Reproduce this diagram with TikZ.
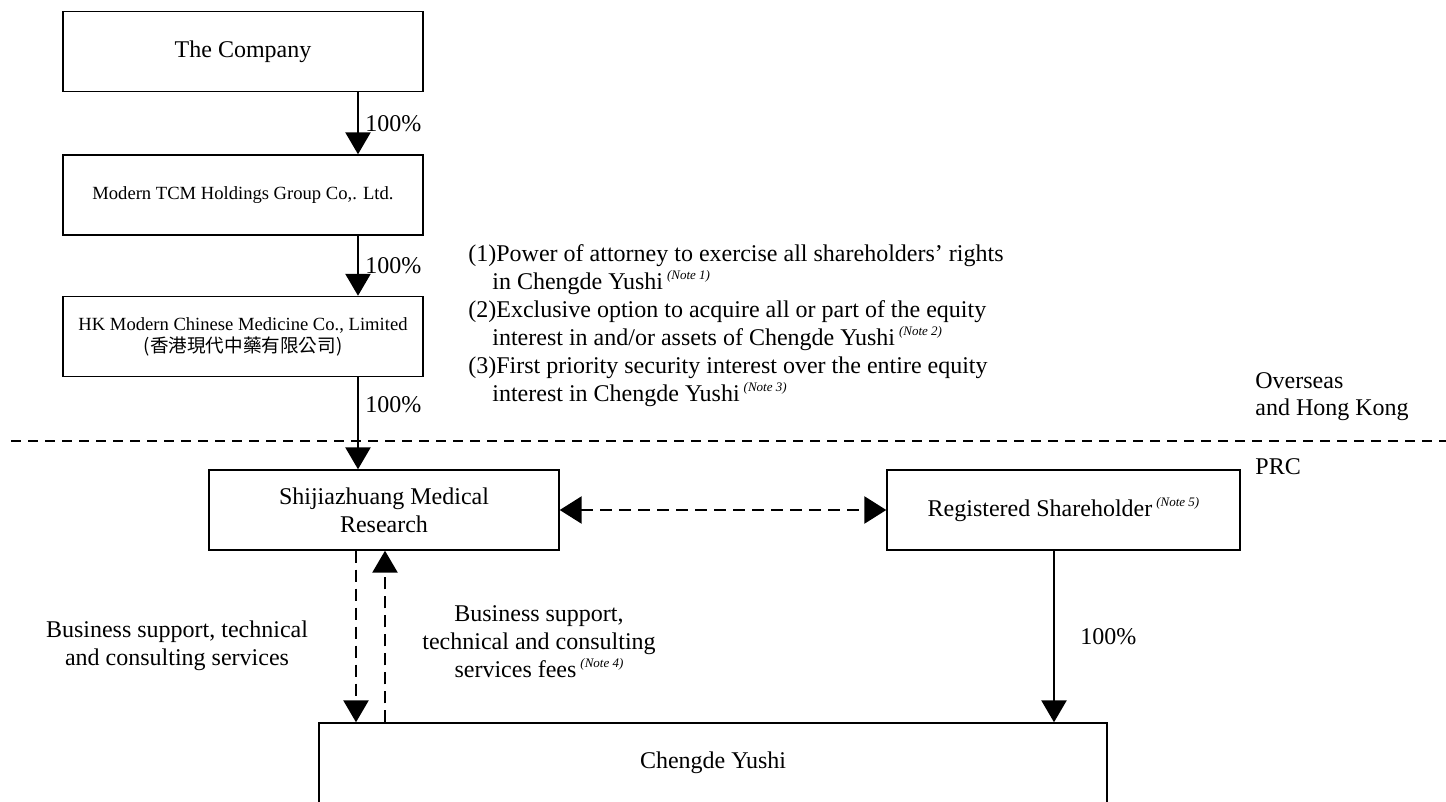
\documentclass[tikz,border=0pt]{standalone}
\usepackage{fontspec}
\setmainfont{Liberation Serif}
\newfontfamily\cjk{Noto Sans CJK TC}
\usetikzlibrary{arrows.meta}
\usetikzlibrary{positioning}
\newcommand{\noteref}[1]{\,\raisebox{0.9ex}{\fontsize{6.5}{7}\selectfont\itshape (Note #1)}}
\tikzset{
    entity/.style={draw, line width=0.7pt, inner sep=0pt, align=center},
    topbox/.style={entity, minimum width=180pt, minimum height=40pt},
    big/.style={font=\fontsize{12}{14}\selectfont},
    small/.style={font=\fontsize{9.3}{11}\selectfont},
    lbl/.style={big, inner sep=0pt},
    owns/.style={line width=1.3pt, -{Triangle[width=12.5pt,length=11pt]}},
    flow/.style={line width=1.3pt, dash pattern=on 6pt off 3.5pt, -{Triangle[width=12.5pt,length=11pt]}},
    flowboth/.style={flow, {Triangle[width=13.5pt,length=11pt]}-{Triangle[width=13.5pt,length=11pt]}},
    border/.style={line width=1.3pt, dash pattern=on 5pt off 3.5pt}
}
\begin{document}
\begin{tikzpicture}[x=0.5pt, y=-0.5pt]
    \clip (0,0) rectangle (1446,802);

    \node[topbox, big] (company) at (243,51.5) {The Company};
    \node[topbox, small] (tcm) at (243,195) {Modern TCM Holdings Group Co,. Ltd.};
    \node[topbox, small] (hkcm) at (243,336.5) {HK Modern Chinese Medicine Co., Limited\\{\cjk (香港現代中藥有限公司)}};
    \node[entity, big, minimum width=175pt, minimum height=40pt] (sjz) at (384,510) {Shijiazhuang Medical\\Research};
    \node[entity, big, minimum width=176.5pt, minimum height=40pt] (regsh) at (1063.5,510) {Registered Shareholder\noteref{5}};
    \node[entity, big, minimum width=394pt, minimum height=40pt] (chengde) at (713,763) {Chengde Yushi};

    \coordinate (own) at (358,0);
    \coordinate (svc) at (356,0);
    \coordinate (fee) at (385,0);
    \coordinate (reg) at (1054,0);
    \coordinate (lineL) at (11,441);
    \coordinate (lineR) at (1446,441);

    \draw[owns] (company.south -| own) -- (tcm.north -| own) node[lbl, midway, right=3pt] {100\%};
    \draw[owns] (tcm.south -| own) -- (hkcm.north -| own) node[lbl, midway, right=3pt] {100\%};
    \draw[owns] (hkcm.south -| own) -- (sjz.north -| own) node[lbl, pos=0.3, right=3pt] {100\%};
    \draw[owns] (regsh.south -| reg) -- (chengde.north -| reg) node[lbl, midway, right=12.5pt] {100\%};
    \draw[flow] (sjz.south -| svc) -- (chengde.north -| svc);
    \draw[flow] (chengde.north -| fee) -- (sjz.south -| fee);
    \draw[flowboth] (sjz.east) -- (regsh.west);
    \draw[border] (lineL) -- (lineR);

    \node[lbl, anchor=north west, align=left] (terms) at (468,244) {(1)Power of attorney to exercise all shareholders' rights\\
        \hspace*{12pt}in Chengde Yushi\noteref{1}\\
        (2)Exclusive option to acquire all or part of the equity\\
        \hspace*{12pt}interest in and/or assets of Chengde Yushi\noteref{2}\\
        (3)First priority security interest over the entire equity\\
        \hspace*{12pt}interest in Chengde Yushi\noteref{3}};
    \node[lbl, align=left, anchor=west, font=\fontsize{12}{13.5}\selectfont] (overseas) at (1255,396.5) {Overseas\\and Hong Kong};
    \node[lbl, anchor=west] (prc) at (1255,467) {PRC};
    \node[lbl, align=center] (services) at (177,646) {Business support, technical\\and consulting services};
    \node[lbl, align=center] (fees) at (539,641.5) {Business support,\\technical and consulting\\services fees\noteref{4}};
\end{tikzpicture}
\end{document}
